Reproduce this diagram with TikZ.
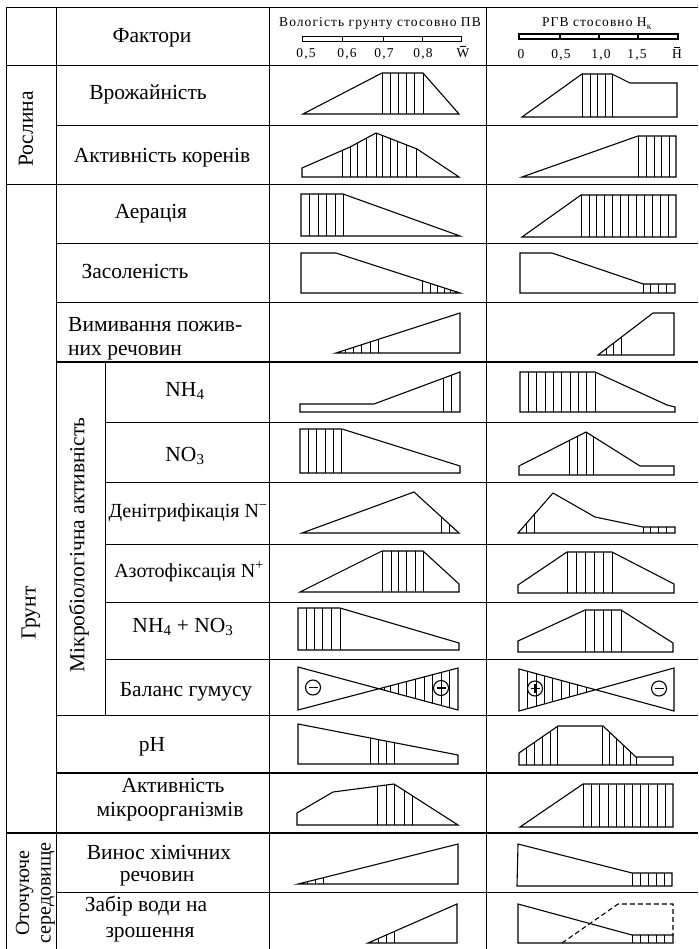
\documentclass[tikz,border=0pt]{standalone}
\usepackage{fontspec}
\setmainfont{Liberation Serif}
\newfontfamily\hdrfont[LetterSpace=8]{Liberation Serif}
\newcommand\fntA{\fontsize{21.5}{25}\selectfont}
\newcommand\fntC{\fontsize{20}{21.5}\selectfont}
\newcommand\fntB{\hdrfont\fontsize{13.5}{15}\selectfont}
\newcommand\hshape[2]{%
  \begin{scope}
    \clip #1;
    \foreach \xx in {#2} \draw[hat] (\xx,0) -- (\xx,949);
  \end{scope}
  \draw[shp] #1;
}
\tikzset{
  grid/.style={line width=0.9pt},
  gridthick/.style={line width=1.8pt},
  shp/.style={line width=1.1pt, line join=miter},
  hat/.style={line width=0.8pt},
  lab/.style={font=\fntA, inner sep=0pt, anchor=base},
  rlab/.style={font=\fntA, inner sep=0pt, rotate=90, align=center},
  hlab/.style={font=\fntB, inner sep=0pt, anchor=base},
  bar/.style={line width=0.9pt}
}
\begin{document}
\begin{tikzpicture}[x=1pt,y=-1pt]
\useasboundingbox (0,0) rectangle (698,949);
\clip (0,0) rectangle (698,949);
% ---------- grid ----------
\draw[grid] (6,7) -- (698,7);
\draw[grid] (6,7) -- (6,949);
\draw[grid] (56,7) -- (56,949);
\draw[grid] (269.5,7) -- (269.5,949);
\draw[grid] (486,7) -- (486,949);
\draw[grid] (105,361) -- (105,715);
\draw[grid] (6,65) -- (698,65);
\draw[grid] (56,125) -- (698,125);
\draw[grid] (6,184) -- (698,184);
\draw[grid] (56,243) -- (698,243);
\draw[grid] (56,302) -- (698,302);
\draw[gridthick] (56,362) -- (698,362);
\foreach \yy in {422,482,544,602,659} \draw[grid] (105,\yy) -- (698,\yy);
\draw[grid] (56,715) -- (698,715);
\draw[gridthick] (56,773) -- (698,773);
\draw[gridthick] (6,833) -- (698,833);
\draw[grid] (56,892) -- (698,892);
% ---------- header ----------
\node[lab] (fak) at (152,43) {Фактори};
\node[hlab] (hw) at (380,27) {Вологість грунту стосовно ПВ};
\node[hlab] (hh) at (597,27) {РГВ стосовно Н\textsubscript{к}};
\draw[bar] (302,36) rectangle (461,41);
\foreach \xx in {342,383,422} \draw[bar] (\xx,36) -- (\xx,41);
\draw[bar,line width=1.2pt] (519,34) rectangle (678,39);
\foreach \xx in {560,599,638} \draw[bar,line width=1.2pt] (\xx,34) -- (\xx,39);
\node[hlab] (w1) at (306,58) {0,5};
\node[hlab] (w2) at (347,58) {0,6};
\node[hlab] (w3) at (384,58) {0,7};
\node[hlab] (w4) at (423,58) {0,8};
\node[hlab] (w5) at (463,58) {W};
\draw[line width=0.7pt] ([xshift=-3pt,yshift=2.5pt]w5.north) -- ([xshift=3pt,yshift=2.5pt]w5.north);
\node[hlab] (h1) at (521,59) {0};
\node[hlab] (h2) at (561,59) {0,5};
\node[hlab] (h3) at (601,59) {1,0};
\node[hlab] (h4) at (637,59) {1,5};
\node[hlab] (h5) at (677,59) {Н};
\draw[line width=0.7pt] ([xshift=-3pt,yshift=2.5pt]h5.north) -- ([xshift=3pt,yshift=2.5pt]h5.north);
% ---------- left group labels ----------
\node[rlab] (gros) at (26,129) {Рослина};
\node[rlab] (ggr) at (31,613) {Грунт};
\node[rlab] (gmic) at (79,545) {Мікробіологічна активність};
\node[rlab,font=\fntC] (gnav) at (35.5,893) {Оточуюче\\середовище};
% ---------- factor labels ----------
\node[lab] (f1) at (148,100) {Врожайність};
\node[lab] (f2) at (162,163) {Активність коренів};
\node[lab] (f3) at (151,219) {Аерація};
\node[lab] (f4) at (135,279) {Засоленість};
\node[lab,anchor=base west] (f5a) at (68,331) {Вимивання пожив-};
\node[lab,anchor=base west] (f5b) at (68,355) {них речовин};
\node[lab] (f6) at (185,396) {NH\textsubscript{4}};
\node[lab] (f7) at (185,461) {NO\textsubscript{3}};
\node[lab,font=\fntC] (f8) at (188,517) {Денітрифікація N\textsuperscript{−}};
\node[lab,font=\fntC] (f9) at (189,577) {Азотофіксація N\textsuperscript{+}};
\node[lab] (f10) at (183,632) {NH\textsubscript{4} + NO\textsubscript{3}};
\node[lab] (f11) at (186,696) {Баланс гумусу};
\node[lab] (f12) at (152,751) {pH};
\node[lab] (f13a) at (173,792) {Активність};
\node[lab] (f13b) at (170,816) {мікроорганізмів};
\node[lab] (f14a) at (159,859) {Винос хімічних};
\node[lab] (f14b) at (157,881) {речовин};
\node[lab] (f15a) at (146,911) {Забір води на};
\node[lab] (f15b) at (150,937) {зрошення};
% ---------- diagrams ----------
% Врожайність
\hshape{(303,114)--(382,73)--(423,73)--(459,114)--cycle}{382,390.2,398.4,406.6,414.8,423}
\hshape{(522,117)--(582,74)--(612,74)--(630,83)--(677,83)--(677,117)--cycle}{582,590,597.5,605,612}
% Активність коренів
\hshape{(302,177)--(302,168)--(350,147)--(376,133)--(417,149)--(459,177)--cycle}{342.3,350,357.7,366.7,376,382.3,390,397.7,406.7,416.7}
\hshape{(522,177)--(638,136)--(676,136)--(676,177)--cycle}{638,646,654,661.5,669}
% Аерація
\hshape{(301,236)--(301,194)--(343,194)--(460,236)--cycle}{309.3,318.3,326.7,335,343}
\hshape{(522,237)--(581,195)--(676,195)--(676,237)--cycle}{581,588.9,596.8,604.8,612.7,620.6,628.5,636.4,644.3,652.3,660.2,668.1}
% Засоленість
\hshape{(301,293)--(301,253)--(336,253)--(460,293)--cycle}{422.7,430,437.3,444.3,450.7,456.7}
\hshape{(520,293)--(520,253)--(552,253)--(643.3,284)--(675,284)--(675,293)--cycle}{643.5,650.7,658.3,666.7}
% Вимивання
\hshape{(336,353)--(460,313)--(460,353)--cycle}{345,353.3,361,370,378.3}
\hshape{(598,355)--(653,313)--(674,313)--(674,355)--cycle}{606,613.3,621.7}
% NH4
\hshape{(300,412)--(300,404)--(374,404)--(460,372)--(460,412)--cycle}{443,451}
\hshape{(520,412)--(520,372)--(595,372)--(667,405)--(675,407)--(675,412)--cycle}{528.3,536.7,545,553.3,561.7,570,578.3,586.7,595}
% NO3
\hshape{(300,473)--(300,429)--(342,429)--(460,466)--(460,473)--cycle}{308.3,316.7,325,333.3,341.7}
\hshape{(519,475)--(519,466)--(586,432)--(640,466)--(674,466)--(674,475)--cycle}{569.3,577.7,586,593.3}
% Денітрифікація
\hshape{(302,533)--(414,492)--(459,533)--cycle}{441,449.3}
\hshape{(518,533)--(553,493)--(595,517)--(643,527)--(675,527)--(675,533)--cycle}{526.7,534.3,643.3,650,658.3,666.7}
% Азотофіксація
\hshape{(300,592)--(382,551)--(423,551)--(459,584)--(459,592)--cycle}{382,391,398.3,406.7,415,423}
\hshape{(518,593)--(518,585)--(567,552)--(612,552)--(674,584)--(674,593)--cycle}{567,576.7,585,594.3,603.3,612}
% NH4 + NO3
\hshape{(298,650)--(298,608)--(340,608)--(459,643)--(459,650)--cycle}{306,314.3,322.7,331.7,340}
\hshape{(518,652)--(518,641)--(585,610)--(621,610)--(673,643)--(673,652)--cycle}{585,594.3,603.3,611.7,621}
% Баланс гумусу
\begin{scope}
  \clip (378.9,688.7) -- (458,668) -- (458,710) -- cycle;
  \foreach \xx in {384,390.5,398,406.7,415,424.3,432.7,441.7,449.3} \draw[hat] (\xx,600) -- (\xx,760);
\end{scope}
\draw[shp] (298,667) -- (458,710) -- (458,668) -- (298,710) -- cycle;
\draw[shp,fill=white] (313,687.5) circle (7.5);
\draw[shp] (308.5,687.5) -- (317.5,687.5);
\draw[shp,fill=white] (441,688) circle (7.5);
\draw[hat] (441.7,680.5) -- (441.7,695.5);
\draw[shp] (436.5,688) -- (445.5,688);
\begin{scope}
  \clip (519,669) -- (595.6,689.8) -- (519,711) -- cycle;
  \foreach \xx in {527.7,536,544,552.7,561,569.3,577.7,586} \draw[hat] (\xx,600) -- (\xx,760);
\end{scope}
\draw[shp] (519,669) -- (674,711) -- (674,668) -- (519,711) -- cycle;
\draw[shp,fill=white] (535,688.5) circle (7.5);
\draw[shp] (530.5,688.5) -- (539.5,688.5);
\draw[shp] (535,684) -- (535,693);
\draw[hat] (536,681) -- (536,696);
\draw[shp,fill=white] (659,688.5) circle (7.5);
\draw[shp] (654.5,688.5) -- (663.5,688.5);
% pH
\hshape{(298,764)--(298,724)--(458,755)--(458,764)--cycle}{370,378.3,386.7,394.3}
\hshape{(519,765)--(519,753)--(558,726)--(603,726)--(636,757)--(673,757)--(673,765)--cycle}{526.7,534.3,542.3,550,557.7,602.7,609.3,616,623.3,630,636}
% Активність мікроорганізмів
\hshape{(297,825)--(297,813)--(333,792)--(394,784)--(458,825)--cycle}{377.3,386,394.3,404,412.3}
\hshape{(520,827)--(583,784)--(673,784)--(673,827)--cycle}{583.3,591.5,599.7,607.9,616,624.2,632.4,640.6,648.8,657,665.2}
% Винос хімічних речовин
\hshape{(298,884)--(458,844)--(458,884)--cycle}{307,315,323}
\hshape{(518,844)--(632,873)--(672,873)--(672,886)--(517,886)--cycle}{632,640,648.3,656,664.3}
% Забір води на зрошення
\hshape{(368,943)--(457,904)--(457,943)--cycle}{378.3,386.7,394.3}
\hshape{(518,904)--(632,935)--(673,935)--(673,943)--(518,943)--cycle}{632,640,648,656,664.5}
\draw[shp,dashed,dash pattern=on 5pt off 3pt] (562,943) -- (618,904) -- (673,904) -- (673,935);
\end{tikzpicture}
\end{document}
